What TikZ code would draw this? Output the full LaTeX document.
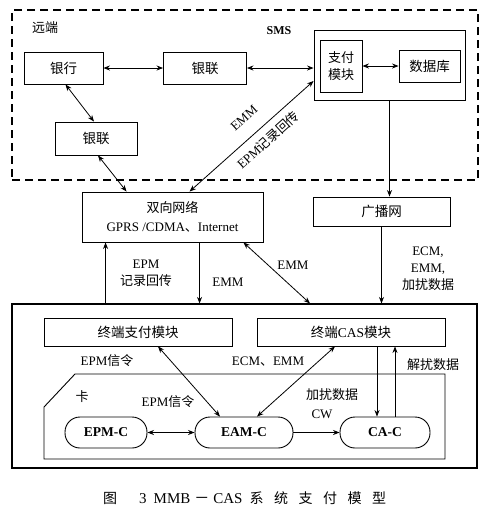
\documentclass[tikz,border=0pt]{standalone}
\usepackage{fontspec}
\setmainfont{Liberation Serif}
\newfontfamily\cjk{Noto Sans CJK SC}
\usetikzlibrary{arrows.meta,calc}
\newcommand\zhtxt[1]{{\cjk #1}}
\begin{document}
\begin{tikzpicture}[x=1pt,y=-1pt,
  box/.style={draw, line width=0.9pt, inner sep=0pt, align=center,
    font=\fontsize{13.5}{15}\selectfont},
  pill/.style={box, rounded corners=15pt},
  lbl/.style={inner sep=0pt, align=center, font=\fontsize{13}{16}\selectfont},
  arr/.style={line width=0.8pt, -{Stealth[length=6.5pt,width=5pt]}},
  darr/.style={line width=0.8pt, {Stealth[length=6.5pt,width=5pt]}-{Stealth[length=6.5pt,width=5pt]}}]
\useasboundingbox (0,0) rectangle (492,515);
\fill[white] (0,0) rectangle (492,515);

% remote dashed region
\node[draw, line width=1.1pt, dash pattern=on 8pt off 5pt, minimum width=466pt, minimum height=170pt, inner sep=0pt] (remote) at (245,95) {};
\node[lbl] (tremote) at (45,28) {\zhtxt{远端}};
\node[lbl, font=\fontsize{12}{14}\selectfont\bfseries] (tsms) at (279,31) {SMS};

\node[box, minimum width=79pt, minimum height=32pt] (bank) at (63.5,68) {\zhtxt{银行}};
\node[box, minimum width=83pt, minimum height=32pt] (unionA) at (205,68) {\zhtxt{银联}};
\node[box, minimum width=82pt, minimum height=33pt] (unionB) at (96,138.5) {\zhtxt{银联}};
\node[box, minimum width=151pt, minimum height=70pt] (sms) at (389.5,65) {};
\node[box, minimum width=42pt, minimum height=52pt, font=\fontsize{13}{17}\selectfont] (pay) at (341,66) {\zhtxt{支付}\\\zhtxt{模块}};
\node[box, minimum width=61pt, minimum height=32pt] (db) at (429.5,66) {\zhtxt{数据库}};

\node[box, minimum width=181pt, minimum height=50pt, font=\fontsize{13}{19}\selectfont] (net) at (172.5,217) {\zhtxt{双向网络}\\GPRS /CDMA\zhtxt{、}Internet};
\node[box, minimum width=137pt, minimum height=29pt] (bcast) at (381.5,211.5) {\zhtxt{广播网}};

% terminal
\node[draw, line width=1.1pt, minimum width=465pt, minimum height=164pt, inner sep=0pt] (term) at (244.5,386) {};
\node[box, minimum width=188pt, minimum height=28pt] (tpay) at (138,332) {\zhtxt{终端支付模块}};
\node[box, minimum width=188pt, minimum height=28pt] (tcas) at (351,332) {\zhtxt{终端}CAS\zhtxt{模块}};

% card
\draw[line width=0.9pt] (44,407) -- (75,374) -- (445,374) -- (445,459) -- (44,459) -- cycle;
\node[lbl] (tcard) at (82,397) {\zhtxt{卡}};

\node[pill, minimum width=82pt, minimum height=31pt, font=\fontsize{13.5}{16}\selectfont\bfseries] (epmc) at (106,432.5) {EPM-C};
\node[pill, minimum width=98pt, minimum height=31pt, font=\fontsize{13.5}{16}\selectfont\bfseries] (eamc) at (244,432.5) {EAM-C};
\node[pill, minimum width=90pt, minimum height=31pt, font=\fontsize{13.5}{16}\selectfont\bfseries] (cac) at (385,432.5) {CA-C};

% remote connectors
\draw[darr] (bank.east) -- (unionA.west);
\draw[darr] (unionA.east) -- (unionA.east -| sms.west);
\draw[darr] (pay.east) -- (pay.east -| db.west);
\draw[darr] ([xshift=2pt]bank.south) -- ([xshift=-2pt]unionB.north);
\draw[darr] ([xshift=2pt]unionB.south) -- ([xshift=45pt]net.north west);
\draw[darr] ([xshift=108pt]net.north west) -- ([yshift=-16pt]sms.west);
\node[lbl, rotate=42] (lemm1) at (244,118) {EMM};
\node[lbl, rotate=42] (lepm1) at (268,140) {EPM\zhtxt{记录回传}};
\draw[arr] (sms.south) -- (sms.south |- bcast.north);

% networks to terminal
\draw[arr] (bcast.south) -- (bcast.south |- term.north);
\node[lbl, font=\fontsize{13}{17}\selectfont] (lecm) at (428,269) {ECM,\\EMM,\\\zhtxt{加扰数据}};
\path (net.south west) ++(24,0) coordinate (nup);
\draw[arr] (nup |- term.north) -- (nup);
\node[lbl, font=\fontsize{13}{17}\selectfont] (lepm2) at (146,273.5) {EPM\\\zhtxt{记录回传}};
\path (net.south west) ++(118,0) coordinate (ndn);
\draw[arr] (ndn) -- (ndn |- term.north);
\node[lbl] (lemm2) at (228,282) {EMM};
\draw[darr] ([xshift=-20pt]net.south east) -- ([xshift=65.5pt]term.north);
\node[lbl] (lemm3) at (293,265) {EMM};

% inside terminal
\draw[darr] ([xshift=20pt]tpay.south) -- ([xshift=-24pt]eamc.north);
\draw[darr] ([xshift=-16pt]tcas.south) -- ([xshift=13pt]eamc.north);
\node[lbl] (lepm3) at (107,361) {EPM\zhtxt{信令}};
\node[lbl] (lecm2) at (268,362) {ECM\zhtxt{、}EMM};
\node[lbl] (lepm4) at (168,402) {EPM\zhtxt{信令}};
\path (tcas.south) ++(26,0) coordinate (cdn);
\draw[arr] (cdn) -- (cdn |- cac.north);
\path (tcas.south) ++(44,0) coordinate (cup);
\draw[arr] (cup |- cac.north) -- (cup);
\node[lbl] (ljr) at (433,365) {\zhtxt{解扰数据}};
\draw[darr] (epmc.east) -- (eamc.west);
\draw[arr] (eamc.east) -- (cac.west);
\node[lbl] (ljrs) at (332,395) {\zhtxt{加扰数据}};
\node[lbl] (lcw) at (322,414) {CW};

% caption
\node[anchor=west, inner sep=0pt, font=\fontsize{15}{18}\selectfont] (cap) at (103,498)
  {\zhtxt{\fontsize{14}{18}\selectfont 图}\hspace{22pt}3\hspace{7pt}MMB\hspace{4pt}\zhtxt{－}\hspace{4pt}CAS\hspace{7pt}\zhtxt{\fontsize{14}{18}\selectfont 系\hspace{10.5pt}统\hspace{10.5pt}支\hspace{10.5pt}付\hspace{10.5pt}模\hspace{10.5pt}型}};
\end{tikzpicture}
\end{document}
